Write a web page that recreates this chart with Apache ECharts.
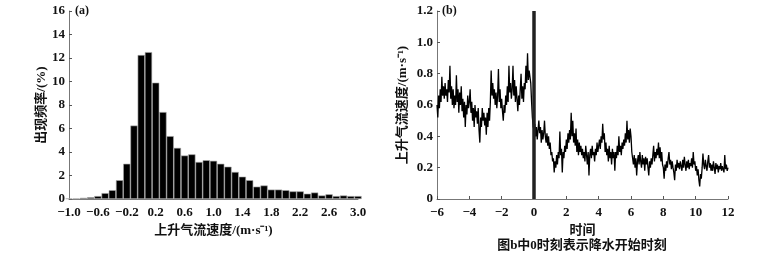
<!DOCTYPE html>
<html><head><meta charset="utf-8">
<script src="https://cdn.jsdelivr.net/npm/echarts@6/dist/echarts.min.js"></script>
<style>html,body{margin:0;padding:0;background:#fff}#c{width:757px;height:255px}</style>
</head><body><div id="c"></div>
<script>
// (a) histogram: bin centers and occurrence frequency (%)
const binCenters = [-1.0,-0.9,-0.8,-0.7,-0.6,-0.5,-0.4,-0.3,-0.2,-0.1,0.0,0.1,0.2,0.3,0.4,0.5,0.6,0.7,0.8,0.9,1.0,1.1,1.2,1.3,1.4,1.5,1.6,1.7,1.8,1.9,2.0,2.1,2.2,2.3,2.4,2.5,2.6,2.7,2.8,2.9,3.0];
const freq = [0.05,0.05,0.1,0.15,0.25,0.5,0.75,1.6,3.0,6.25,12.25,12.5,9.9,7.4,5.35,4.35,3.7,3.8,3.15,3.3,3.25,3.0,2.75,2.3,1.9,1.6,1.05,1.15,0.8,0.8,0.75,0.65,0.65,0.45,0.55,0.3,0.4,0.25,0.3,0.25,0.25];
const aYTicks = [0,2,4,6,8,10,12,14,16];
const aXTicks = [-1.0,-0.6,-0.2,0.2,0.6,1.0,1.4,1.8,2.2,2.6,3.0];

// (b) updraft speed time series, sampled every 0.05 from -6 to 12
const timeStart = -6, timeStep = 0.05;
const updraft = [
0.60,0.52,0.66,0.58,0.70,0.62,0.78,0.66,0.72,0.64,0.74,0.66,0.70,0.62,0.76,0.68,0.85,0.64,0.72,0.60,
0.70,0.58,0.66,0.60,0.79,0.62,0.70,0.55,0.68,0.60,0.72,0.56,0.64,0.52,0.62,0.46,0.60,0.54,0.66,0.58,
0.62,0.70,0.55,0.62,0.50,0.58,0.46,0.60,0.52,0.56,0.48,0.58,0.44,0.36,0.52,0.46,0.58,0.50,0.55,0.47,
0.52,0.41,0.55,0.46,0.58,0.50,0.62,0.82,0.66,0.74,0.64,0.70,0.60,0.68,0.58,0.66,0.83,0.62,0.70,0.58,
0.64,0.56,0.50,0.60,0.55,0.66,0.60,0.72,0.62,0.85,0.68,0.74,0.64,0.70,0.85,0.66,0.76,0.62,0.72,0.64,
0.56,0.66,0.60,0.70,0.80,0.64,0.72,0.62,0.74,0.70,0.85,0.74,0.93,0.76,0.82,0.78,0.74,0.62,0.52,0.46,
0.44,0.48,0.40,0.46,0.38,0.44,0.50,0.42,0.46,0.36,0.44,0.38,0.42,0.50,0.40,0.36,0.42,0.34,0.40,0.32,
0.36,0.28,0.30,0.24,0.26,0.17,0.24,0.20,0.28,0.22,0.30,0.26,0.43,0.28,0.32,0.17,0.30,0.26,0.34,0.30,
0.38,0.32,0.42,0.36,0.44,0.38,0.55,0.40,0.50,0.36,0.42,0.34,0.45,0.30,0.38,0.28,0.36,0.30,0.34,0.28,
0.32,0.26,0.30,0.24,0.34,0.28,0.22,0.30,0.15,0.28,0.32,0.26,0.34,0.28,0.30,0.24,0.32,0.28,0.36,0.30,
0.34,0.38,0.32,0.40,0.36,0.48,0.38,0.42,0.30,0.36,0.28,0.32,0.24,0.34,0.26,0.30,0.22,0.32,0.26,0.30,
0.18,0.30,0.26,0.34,0.28,0.40,0.30,0.34,0.28,0.36,0.32,0.38,0.34,0.42,0.36,0.50,0.38,0.44,0.36,0.45,
0.40,0.30,0.26,0.22,0.28,0.20,0.26,0.15,0.24,0.28,0.22,0.30,0.24,0.20,0.28,0.22,0.26,0.18,0.27,0.22,
0.26,0.20,0.15,0.24,0.20,0.26,0.22,0.28,0.34,0.24,0.30,0.26,0.32,0.28,0.36,0.26,0.33,0.24,0.30,0.22,
0.20,0.13,0.22,0.18,0.24,0.20,0.26,0.30,0.22,0.25,0.19,0.24,0.20,0.17,0.12,0.22,0.18,0.25,0.20,0.23,
0.19,0.24,0.21,0.18,0.25,0.20,0.27,0.22,0.18,0.24,0.20,0.25,0.19,0.23,0.21,0.26,0.20,0.30,0.22,0.24,
0.18,0.21,0.15,0.19,0.12,0.08,0.16,0.13,0.20,0.29,0.22,0.19,0.25,0.21,0.18,0.24,0.28,0.20,0.23,0.18,
0.22,0.18,0.24,0.20,0.16,0.23,0.19,0.22,0.17,0.21,0.19,0.23,0.18,0.21,0.20,0.17,0.28,0.19,0.22,0.18,
0.20];
const bYTicks = [0,0.2,0.4,0.6,0.8,1.0,1.2];
const bXTicks = [-6,-4,-2,0,2,4,6,8,10,12];
const rainStart = 0;

const labels = {
  aY: '出现频率/(%)', aX: '上升气流速度/(m·s⁻¹)',
  bY: '上升气流速度/(m·s⁻¹)', bX: '时间',
  caption: '图b中0时刻表示降水开始时刻', a: '(a)', b: '(b)'
};

const serif = '"Liberation Serif"';
const mixed = '"Liberation Serif", "Noto Sans CJK SC"';
const minus = s => String(s).replace('-', '\u2212');
const tickLbl = {fontFamily: serif, fontWeight: 'bold', fontSize: 13, color: '#111'};
const nameSty = {fontFamily: mixed, fontWeight: 'bold', fontSize: 13, color: '#111'};
const axLine = {show: true, onZero: false, lineStyle: {color: '#777', width: 1}};
const tick = {show: true, inside: true, length: 3, lineStyle: {color: '#555'}};

const chart = echarts.init(document.getElementById('c'), null, {renderer: 'canvas'});
chart.setOption({
  animation: false,
  backgroundColor: '#fff',
  grid: [
    {left: 69, top: 11, width: 289, height: 188},
    {left: 437, top: 11, width: 291, height: 188}
  ],
  xAxis: [
    {gridIndex: 0, type: 'value', min: aXTicks[0], max: aXTicks[aXTicks.length-1], interval: 0.4,
     axisLine: axLine, axisTick: {show: false}, splitLine: {show: false},
     axisLabel: {...tickLbl, margin: 7, formatter: v => minus(v.toFixed(1))},
     name: labels.aX, nameLocation: 'middle', nameGap: 23, nameTextStyle: nameSty},
    {gridIndex: 1, type: 'value', min: bXTicks[0], max: bXTicks[bXTicks.length-1], interval: 2,
     axisLine: axLine, axisTick: tick, splitLine: {show: false},
     axisLabel: {...tickLbl, margin: 7, formatter: v => minus(v)},
     name: labels.bX, nameLocation: 'middle', nameGap: 23, nameTextStyle: nameSty}
  ],
  yAxis: [
    {gridIndex: 0, type: 'value', min: aYTicks[0], max: aYTicks[aYTicks.length-1], interval: 2,
     axisLine: axLine, axisTick: tick, splitLine: {show: false},
     axisLabel: {...tickLbl, margin: 4},
     name: labels.aY, nameLocation: 'middle', nameGap: 20, nameTextStyle: nameSty},
    {gridIndex: 1, type: 'value', min: bYTicks[0], max: bYTicks[bYTicks.length-1], interval: 0.2,
     axisLine: axLine, axisTick: tick, splitLine: {show: false},
     axisLabel: {...tickLbl, margin: 4, formatter: v => v === 0 ? '0' : v.toFixed(1)},
     name: labels.bY, nameLocation: 'middle', nameGap: 28, nameTextStyle: nameSty}
  ],
  series: [
    {type: 'bar', xAxisIndex: 0, yAxisIndex: 0, clip: true, barWidth: '100%',
     data: binCenters.map((c, i) => [c, freq[i]]),
     itemStyle: {color: '#000', borderColor: '#aaa', borderWidth: 0.6}},
    {type: 'line', xAxisIndex: 1, yAxisIndex: 1, showSymbol: false, symbol: 'none',
     data: updraft.map((v, i) => [timeStart + i * timeStep, v]),
     lineStyle: {color: '#000', width: 1.3},
     markLine: {symbol: 'none', silent: true, label: {show: false},
       lineStyle: {color: '#222', width: 3.5, type: 'solid'},
       data: [{xAxis: rainStart}]}}
  ],
  graphic: [
    {type: 'text', left: 75, top: 5, style: {text: labels.a, font: 'bold 12px "Liberation Serif"', fill: '#111'}},
    {type: 'text', left: 442, top: 5, style: {text: labels.b, font: 'bold 12px "Liberation Serif"', fill: '#111'}},
    {type: 'text', x: 582, y: 246, style: {text: labels.caption, font: 'bold 13px "Liberation Serif", "Noto Sans CJK SC"', fill: '#111', align: 'center', verticalAlign: 'middle'}}
  ]
});
</script></body></html>
